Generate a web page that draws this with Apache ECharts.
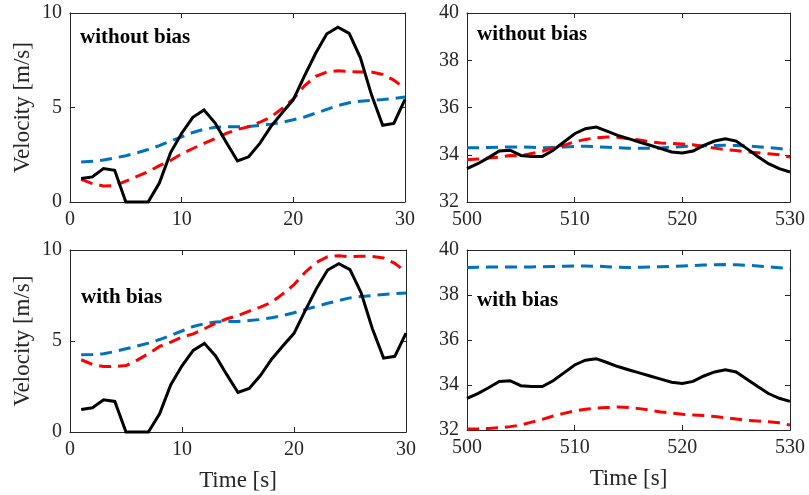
<!DOCTYPE html>
<html>
<head>
<meta charset="utf-8">
<script src="https://cdn.jsdelivr.net/npm/echarts@6/dist/echarts.min.js"></script>
<style>html,body{margin:0;padding:0;background:#fff;}#c{width:809px;height:495px;}</style>
</head>
<body>
<div id="c"></div>
<script>
// ---- data ----
const tShort = [1,2,3,4,5,6,7,8,9,10,11,12,13,14,15,16,17,18,19,20,21,22,23,24,25,26,27,28,29,30];
const tLong = [500,501,502,503,504,505,506,507,508,509,510,511,512,513,514,515,516,517,518,519,520,521,522,523,524,525,526,527,528,529,530];

const measShort = [1.24,1.33,1.77,1.68,0,0,0,1.0,2.6,3.64,4.48,4.87,4.18,3.15,2.17,2.39,3.1,4.0,4.72,5.42,6.67,7.87,8.9,9.25,8.92,7.64,5.67,4.06,4.16,5.43];
const redNoBiasShort = [1.2,0.97,0.85,0.87,1.1,1.35,1.6,1.92,2.2,2.55,2.83,3.1,3.36,3.63,3.84,3.98,4.22,4.5,4.95,5.45,6.15,6.65,6.88,6.95,6.9,6.88,6.88,6.75,6.45,6.0];
const blueNoBiasShort = [2.12,2.15,2.22,2.33,2.45,2.6,2.78,2.98,3.22,3.45,3.68,3.85,3.95,3.98,3.98,4.0,4.05,4.12,4.22,4.35,4.5,4.7,4.9,5.1,5.25,5.33,5.38,5.42,5.48,5.55];
const redBiasShort = [3.97,3.71,3.6,3.6,3.65,3.95,4.3,4.7,4.94,5.21,5.39,5.67,5.98,6.22,6.4,6.64,6.86,7.13,7.59,8.1,8.78,9.32,9.63,9.69,9.63,9.65,9.65,9.56,9.27,8.78];
const blueBiasShort = [4.24,4.26,4.3,4.42,4.57,4.72,4.88,5.08,5.3,5.55,5.8,5.95,6.05,6.07,6.07,6.12,6.18,6.28,6.4,6.55,6.73,6.9,7.07,7.22,7.37,7.45,7.5,7.55,7.6,7.64];

const measLong = [33.41,33.62,33.88,34.16,34.19,33.97,33.93,33.93,34.19,34.54,34.89,35.1,35.17,35.0,34.82,34.68,34.54,34.4,34.26,34.12,34.07,34.16,34.4,34.58,34.68,34.58,34.26,33.93,33.62,33.41,33.27];
const redNoBiasLong = [33.79,33.82,33.86,33.9,33.97,33.95,34.05,34.15,34.3,34.4,34.55,34.65,34.72,34.75,34.74,34.68,34.62,34.55,34.5,34.48,34.46,34.42,34.35,34.28,34.22,34.18,34.12,34.08,34.04,34.0,33.9];
const blueNoBiasLong = [34.3,34.3,34.31,34.32,34.33,34.33,34.32,34.3,34.31,34.33,34.35,34.36,34.34,34.32,34.3,34.28,34.27,34.27,34.29,34.32,34.35,34.37,34.38,34.39,34.4,34.39,34.37,34.34,34.3,34.26,34.21];
const redBiasLong = [32.04,32.05,32.07,32.1,32.15,32.22,32.35,32.47,32.62,32.74,32.85,32.92,32.97,33.0,33.02,33.0,32.95,32.88,32.8,32.75,32.7,32.67,32.64,32.6,32.55,32.49,32.43,32.4,32.37,32.32,32.22];
const blueBiasLong = [39.22,39.23,39.24,39.25,39.25,39.25,39.25,39.26,39.27,39.28,39.29,39.29,39.28,39.26,39.23,39.22,39.23,39.25,39.26,39.27,39.29,39.31,39.33,39.34,39.35,39.34,39.32,39.29,39.25,39.21,39.17];

const panelLabels = ['without bias','without bias','with bias','with bias'];
const xLabel = 'Time [s]';
const yLabel = 'Velocity [m/s]';

// ---- chart ----
const FONT = 'Liberation Serif, Times New Roman, serif';
const AX = '#262626';
const grids = [
  {left:70, top:13, width:335, height:189},
  {left:467, top:13, width:323, height:189},
  {left:70, top:250, width:336, height:182},
  {left:467, top:250, width:323, height:180}
];
const xr = [[0,30,10],[500,530,10],[0,30,10],[500,530,10]];
const yr = [[0,10,5],[32,40,2],[0,10,5],[32,40,2]];

const xAxis = [], yAxis = [];
grids.forEach((g,i)=>{
  const base = {
    type:'value', gridIndex:i, splitLine:{show:false},
    axisLine:{show:true, onZero:false, lineStyle:{color:AX,width:1}},
    axisTick:{show:true, inside:true, length:5, lineStyle:{color:AX}},
  };
  xAxis.push(Object.assign({}, base, {
    position:'bottom', min:xr[i][0], max:xr[i][1], interval:xr[i][2],
    axisLabel:{color:AX, fontFamily:FONT, fontSize:20, margin:8},
    name: i>=2 ? xLabel : '', nameLocation:'middle', nameGap:37,
    nameTextStyle:{color:AX, fontFamily:FONT, fontSize:23}
  }));
  xAxis.push(Object.assign({}, base, {
    position:'top', min:xr[i][0], max:xr[i][1], interval:xr[i][2],
    axisLabel:{show:false}
  }));
  yAxis.push(Object.assign({}, base, {
    position:'left', min:yr[i][0], max:yr[i][1], interval:yr[i][2],
    axisLabel:{color:AX, fontFamily:FONT, fontSize:20, margin:8},
    name: (i===0||i===2) ? yLabel : '', nameLocation:'middle', nameGap:36,
    nameTextStyle:{color:AX, fontFamily:FONT, fontSize:23}
  }));
  yAxis.push(Object.assign({}, base, {
    position:'right', min:yr[i][0], max:yr[i][1], interval:yr[i][2],
    axisLabel:{show:false}
  }));
});

function pairs(xs, ys){ return xs.map((x,k)=>[x, ys[k]]); }
function line(i, xs, ys, color, dashed){
  return {
    type:'line', xAxisIndex:2*i, yAxisIndex:2*i, data:pairs(xs,ys),
    showSymbol:false, symbol:'none', clip:false, animation:false,
    lineStyle:{color:color, width:3, type: dashed?[12,7]:'solid', cap:'butt', join:'miter'},
    z: dashed?2:3
  };
}
const BLUE = '#0072BD', RED = '#FF0000', BLACK = '#000000';
const series = [
  line(0, tShort, blueNoBiasShort, BLUE, true),
  line(0, tShort, redNoBiasShort, RED, true),
  line(0, tShort, measShort, BLACK, false),
  line(1, tLong, blueNoBiasLong, BLUE, true),
  line(1, tLong, redNoBiasLong, RED, true),
  line(1, tLong, measLong, BLACK, false),
  line(2, tShort, blueBiasShort, BLUE, true),
  line(2, tShort, redBiasShort, RED, true),
  line(2, tShort, measShort, BLACK, false),
  line(3, tLong, blueBiasLong, BLUE, true),
  line(3, tLong, redBiasLong, RED, true),
  line(3, tLong, measLong, BLACK, false)
];

const labelPos = [[80,27],[477,24],[81,287],[477,290]];
const title = panelLabels.map((t,i)=>({
  text:t, left:labelPos[i][0], top:labelPos[i][1], padding:0,
  textStyle:{fontFamily:FONT, fontWeight:'bold', fontSize:21, color:'#000'}
}));

const chart = echarts.init(document.getElementById('c'), null, {renderer:'canvas'});
chart.setOption({
  animation:false, backgroundColor:'#fff',
  title, grid:grids, xAxis, yAxis, series
});
</script>
</body>
</html>
